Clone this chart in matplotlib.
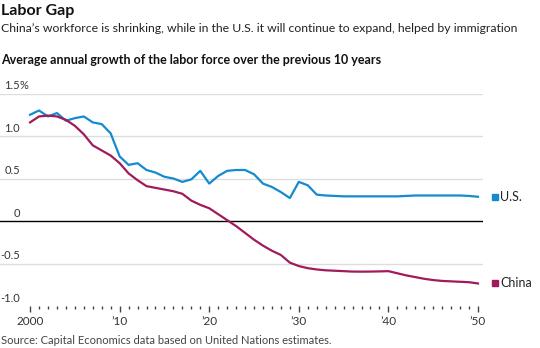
import matplotlib
matplotlib.use("Agg")
import matplotlib.pyplot as plt
import numpy as np
from matplotlib.ticker import FixedLocator

plt.rcParams['font.family'] = ['Lato', 'DejaVu Sans']

years = np.arange(2000, 2051)
us = [1.25, 1.30, 1.23, 1.27, 1.18, 1.21, 1.23, 1.16, 1.14, 1.03,
      0.76, 0.66, 0.68, 0.60, 0.57, 0.52, 0.50, 0.46, 0.49, 0.59,
      0.44, 0.53, 0.59, 0.60, 0.60, 0.55, 0.44, 0.40, 0.34, 0.27,
      0.46, 0.42, 0.31, 0.30, 0.295, 0.29, 0.29, 0.29, 0.29, 0.29,
      0.29, 0.29, 0.295, 0.30, 0.30, 0.30, 0.30, 0.30, 0.30, 0.295,
      0.285]
china = [1.16, 1.23, 1.24, 1.23, 1.19, 1.12, 1.02, 0.89, 0.83, 0.77,
         0.68, 0.56, 0.48, 0.41, 0.39, 0.37, 0.35, 0.32, 0.24, 0.19,
         0.15, 0.08, 0.01, -0.06, -0.14, -0.22, -0.29, -0.35, -0.40, -0.49,
         -0.53, -0.555, -0.57, -0.58, -0.585, -0.59, -0.595, -0.596, -0.595, -0.593,
         -0.59, -0.615, -0.64, -0.66, -0.68, -0.695, -0.705, -0.71, -0.715, -0.72,
         -0.735]
series_names = ["U.S.", "China"]
x_ticks = [2000, 2010, 2020, 2030, 2040, 2050]
x_labels = ["2000", "\u201910", "\u201920", "\u201930", "\u201940", "\u201950"]
y_ticks = [1.5, 1.0, 0.5, 0, -0.5, -1.0]
y_labels = ["1.5", "1.0", "0.5", "0", "-0.5", "-1.0"]

blue = '#148bd0'
red = '#a11b5c'
W, H = 540, 348

fig = plt.figure(figsize=(5.4, 3.48), dpi=100)
ax = fig.add_axes([0, 1 - 306 / H, 483 / W, (306 - 93.5) / H])
ax.set_xlim(2000 - 30 / 8.94, 2050 + 5 / 8.94)
ax.set_ylim(-1.0, 1.5)

# gridlines, zero line in black
for v in y_ticks:
    if v == 0:
        ax.axhline(v, color='black', linewidth=1.0, zorder=2)
    elif v != -1.0:
        ax.axhline(v, color='#dddddd', linewidth=1.0, zorder=1)

ax.plot(years, us, color=blue, linewidth=1.6, zorder=3)
ax.plot(years, china, color=red, linewidth=1.6, zorder=3)

# y labels sitting on the gridlines
for v, lab in zip(y_ticks, y_labels):
    ax.annotate(lab, xy=(20 / 483, v), xycoords=('axes fraction', 'data'),
                xytext=(0, 1.5), textcoords='offset points',
                ha='right', va='bottom', fontsize=8, color='#333333')
ax.annotate("%", xy=(20 / 483, 1.5), xycoords=('axes fraction', 'data'),
            xytext=(0, 1.5), textcoords='offset points',
            ha='left', va='bottom', fontsize=8, color='#333333')

# legend at line ends
for vals, name, c in [(us, series_names[0], blue), (china, series_names[1], red)]:
    ax.plot([2051.85], [vals[-1]], marker='s', markersize=3.8, color=c,
            linestyle='', clip_on=False)
    ax.text(2052.45, vals[-1], name, ha='left', va='center', fontsize=9,
            color='#222222', clip_on=False)

ax.xaxis.set_major_locator(FixedLocator(x_ticks))
ax.xaxis.set_minor_locator(FixedLocator(list(range(2000, 2051))))
ax.set_xticklabels(x_labels, fontsize=8.5, color='#333333')
ax.tick_params(axis='x', which='major', length=4, width=1, color='#444444', pad=3)
ax.tick_params(axis='x', which='minor', length=2, width=1, color='#444444')
ax.set_yticks([])
for s in ax.spines.values():
    s.set_visible(False)

fig.text(1 / W, 1 - 11 / H, "Labor Gap", fontsize=11.5, fontweight='bold',
         va='center', ha='left', color='#111111')
fig.text(1 / W, 1 - 29 / H,
         "China\u2019s workforce is shrinking, while in the U.S. it will continue to expand, helped by immigration",
         fontsize=8.8, va='center', ha='left', color='#222222')
fig.text(1 / W, 1 - 60 / H, "Average annual growth of the labor force over the previous 10 years",
         fontsize=9, fontweight='bold', va='center', ha='left', color='#111111')
fig.text(1 / W, 1 - 341 / H, "Source: Capital Economics data based on United Nations estimates.",
         fontsize=8, va='center', ha='left', color='#444444')

fig.savefig("out.png", dpi=100)
